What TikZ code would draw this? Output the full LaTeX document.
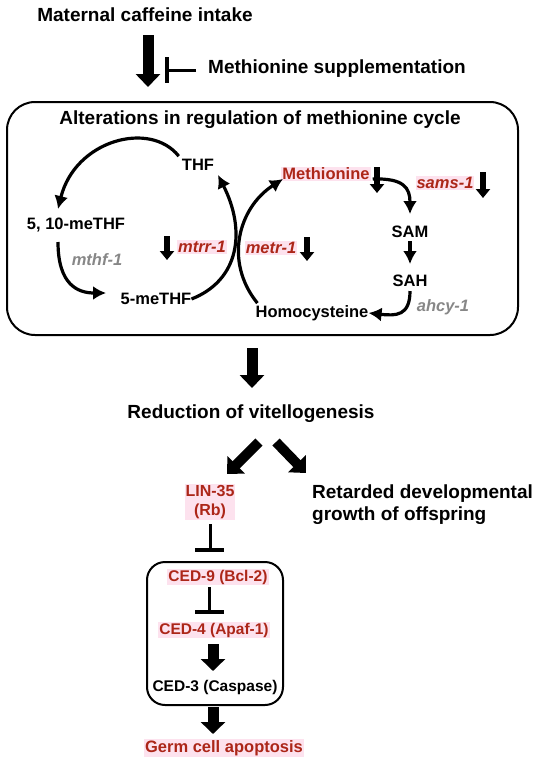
\documentclass[tikz,border=0pt]{standalone}
\usepackage{fontspec}
\setmainfont{Liberation Sans}
\usetikzlibrary{arrows.meta}
\definecolor{dred}{RGB}{172,38,24}
\definecolor{pinkbg}{RGB}{253,226,238}
\definecolor{gtxt}{RGB}{135,135,135}
\begin{document}
\begin{tikzpicture}[x=1pt,y=-1pt,
  head/.style={font=\fontsize{19}{22}\selectfont\bfseries, inner sep=0pt},
  lab/.style={font=\fontsize{16.5}{19}\selectfont\bfseries, inner sep=0pt},
  redlab/.style={lab, text=dred, fill=pinkbg, inner sep=1pt},
  gene/.style={font=\fontsize{16.5}{19}\selectfont\bfseries\itshape, text=dred, fill=pinkbg, inner sep=1pt},
  ggene/.style={font=\fontsize{16.5}{19}\selectfont\bfseries\itshape, text=gtxt, inner sep=0pt},
  ced/.style={font=\fontsize{15.5}{19}\selectfont\bfseries, inner sep=1pt, text=dred, fill=pinkbg},
  thin/.style={line width=3.2pt, -{Latex[length=13pt,width=14pt]}},
  fat/.style={line width=11pt, -{Triangle[width=24pt,length=13pt]}},
  small/.style={line width=6pt, -{Triangle[width=14pt,length=9pt]}},
  stem/.style={line width=3pt},
  bar/.style={line width=3.5pt},
  frame/.style={draw, line width=2pt}
]
\useasboundingbox (0,0) rectangle (550,763);

% top
\node[head] (mci) at (145,15) {Maternal caffeine intake};
\node[head, anchor=west] (ms) at (208,69) {Methionine supplementation};
\coordinate (a1) at (148,35);
\coordinate (a2) at (148,87);
\draw[fat] (a1) -- (a2);
\coordinate (i1) at (196,70);
\coordinate (i2) at (167,70);
\coordinate (i3) at (167,57);
\coordinate (i4) at (167,83);
\draw[stem] (i1) -- (i2);
\draw[bar] (i3) -- (i4);

% cycle box
\node[frame, rounded corners=28pt, minimum width=511pt, minimum height=233pt] (cyc) at (262.5,218.5) {};
\node[head] (title) at (260,120) {Alterations in regulation of methionine cycle};

\node[lab] (thf) at (198,165) {THF};
\node[lab] (m510) at (76,225) {5, 10-meTHF};
\node[ggene] (mthf) at (97,260) {mthf-1};
\node[lab] (m5) at (156,299) {5-meTHF};
\node[redlab] (met) at (326,174) {Methionine};
\node[gene] (sams) at (445,183) {sams-1};
\node[lab] (sam) at (410,232) {SAM};
\node[lab] (sah) at (410,281) {SAH};
\node[lab] (hcy) at (312,313) {Homocysteine};
\node[ggene] (ahcy) at (443,307) {ahcy-1};
\node[gene] (mtrr) at (202,247) {mtrr-1};
\node[gene] (metr) at (271,248) {metr-1};

% curved arrows
\draw[thin] (thf.north west) ++(-3,-3) coordinate (t0) .. controls (150,120) and (75,140) .. (58,209) coordinate (t1);
\draw[thin] (58,242) coordinate (u0) .. controls (58,285) and (78,293) .. (106,293) coordinate (u1);
\draw[thin] (m5.east) .. controls (240,280) and (246,230) .. (218,175) coordinate (v1);
\draw[thin] (hcy.north west) ++(2,-2) coordinate (w0) .. controls (224,262) and (238,208) .. (283,179) coordinate (w1);
\draw[thin] (met.east) ++(2,5) coordinate (x0) .. controls (404,178) and (410,188) .. (410,214) coordinate (x1);
\draw[thin] (sam.south) ++(0,3) coordinate (y0) -- (410,264) coordinate (y1);
\draw[thin] (sah.south) ++(0,4) coordinate (z0) .. controls (410,316) and (396,316) .. (hcy.east);

% small down indicator arrows
\coordinate (d1a) at (377,167); \coordinate (d1b) at (377,193);
\coordinate (d2a) at (483,172); \coordinate (d2b) at (483,198);
\coordinate (d3a) at (167,236); \coordinate (d3b) at (167,260);
\coordinate (d4a) at (307,237); \coordinate (d4b) at (307,261);
\draw[small] (d1a) -- (d1b);
\draw[small] (d2a) -- (d2b);
\draw[small] (d3a) -- (d3b);
\draw[small] (d4a) -- (d4b);

% lower part
\coordinate (b1) at (252,348);
\coordinate (b2) at (252,388);
\draw[fat] (b1) -- (b2);
\node[head] (red) at (251,414) {Reduction of vitellogenesis};
\coordinate (c1) at (259,442);
\coordinate (c2) at (227,474);
\coordinate (c3) at (276,442);
\coordinate (c4) at (306,473);
\draw[line width=10pt, -{Triangle[width=24pt,length=13pt]}] (c1) -- (c2);
\draw[line width=10pt, -{Triangle[width=24pt,length=13pt]}] (c3) -- (c4);

\node[ced, align=center, font=\fontsize{16}{19}\selectfont\bfseries] (lin) at (210,502) {LIN-35\\(Rb)};
\node[head, align=left, anchor=north west, font=\fontsize{19}{22}\selectfont\bfseries] (ret) at (312,485) {Retarded developmental\\growth of offspring};

\node[frame, rounded corners=18pt, minimum width=136pt, minimum height=143pt] (cbox) at (215,633.5) {};
\node[ced] (ced9) at (218,577) {CED-9 (Bcl-2)};
\node[ced] (ced4) at (214,630) {CED-4 (Apaf-1)};
\node[ced, text=black, fill=none] (ced3) at (215,687) {CED-3 (Caspase)};

\coordinate (l1) at (210,524);
\coordinate (l2) at (210,550);
\coordinate (l3) at (195,550);
\coordinate (l4) at (224,550);
\draw[stem] (l1) -- (l2);
\draw[bar] (l3) -- (l4);
\coordinate (k1) at (209,587);
\coordinate (k2) at (209,612);
\coordinate (k3) at (195,612);
\coordinate (k4) at (224,612);
\draw[stem] (k1) -- (k2);
\draw[bar] (k3) -- (k4);
\coordinate (e1) at (213,644);
\coordinate (e2) at (213,671);
\draw[line width=11pt, -{Triangle[width=24pt,length=12pt]}] (e1) -- (e2);
\coordinate (f1) at (213,707);
\coordinate (f2) at (213,734);
\draw[line width=11pt, -{Triangle[width=24pt,length=12pt]}] (f1) -- (f2);
\node[ced, font=\fontsize{16.5}{19}\selectfont\bfseries] (germ) at (224,748) {Germ cell apoptosis};
\end{tikzpicture}
\end{document}
